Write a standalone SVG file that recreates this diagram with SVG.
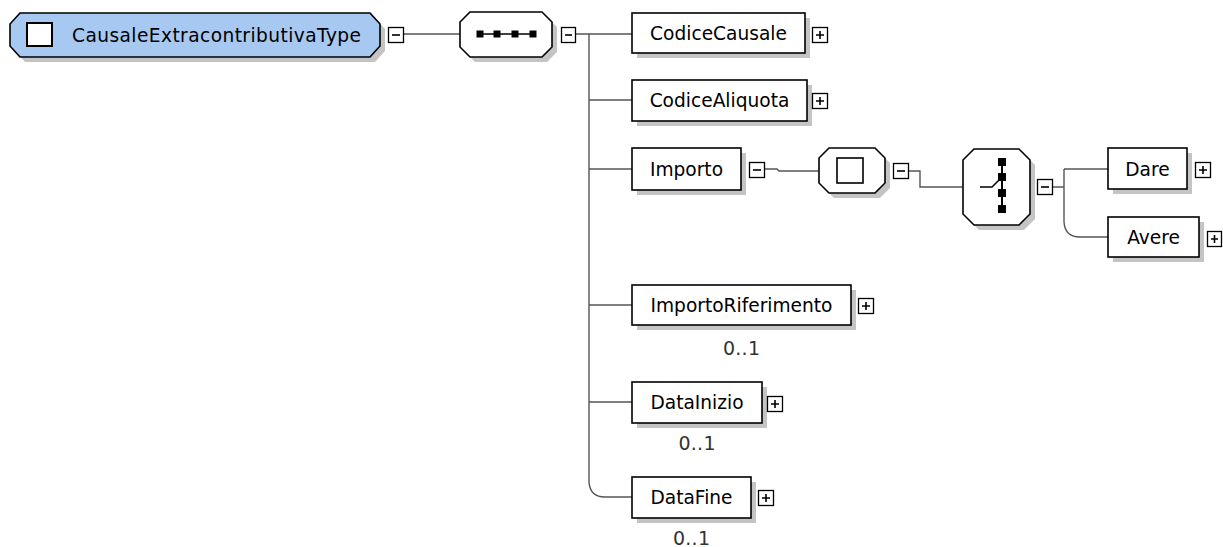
<svg xmlns="http://www.w3.org/2000/svg" width="1223" height="547" viewBox="0 0 1223 547">
<style>
.sh{fill:#c4c4c4;stroke:none}
.box{fill:#ffffff;stroke:#000;stroke-width:1.6}
.root{fill:#a7c8f0;stroke:#000;stroke-width:1.6}
.lbl{font-family:"DejaVu Sans",Verdana,sans-serif;font-size:18.6px;fill:#000}
.card{font-family:"DejaVu Sans",Verdana,sans-serif;font-size:19px;fill:#333;text-anchor:middle}
.tg{fill:#fff;stroke:#000;stroke-width:1.3}
.tgl{stroke:#000;stroke-width:1.6;fill:none}
.con{fill:none;stroke:#555;stroke-width:1.4}
.dot{fill:#000}
</style>
<rect width="1223" height="547" fill="#fff"/>
<g id="connectors">
<path class="con" d="M404,34 H460"/>
<path class="con" d="M575,34 H589 M589,34 V482 Q590,497 605,497 H632"/>
<path class="con" d="M589,34 H632 M589,100 H632 M589,169 H632 M589,305 H632 M589,402 H632"/>
<path class="con" d="M764,169 H777 L779,171 H819"/>
<path class="con" d="M908,171 H920 V187 H963"/>
<path class="con" d="M1052,187 H1064 M1064,169 H1108 M1064,169 V222 Q1065,237 1080,237 H1108"/>
</g>
<g id="root">
<polygon class="sh" points="25,18 375,18 385,29 385,51 375,62 25,62 15,51 15,29"/>
<polygon class="root" points="20,13 370,13 380,24 380,46 370,57 20,57 10,46 10,24"/>
<rect x="27" y="23" width="25" height="23" fill="#fff" stroke="#000" stroke-width="2"/>
<text class="lbl" x="72" y="42" textLength="289" lengthAdjust="spacing">CausaleExtracontributivaType</text>
<rect class="tg" x="388.5" y="27.5" width="15" height="15"/>
<path class="tgl" d="M392,35 H400"/>
</g>
<g id="sequence">
<polygon class="sh" points="475,17 547,17 557,27 557,52 547,62 475,62 465,52 465,27"/>
<polygon class="box" points="470,12 542,12 552,22 552,47 542,57 470,57 460,47 460,22"/>
<path d="M480,34 H533" stroke="#000" stroke-width="1.5"/>
<rect class="dot" x="476.5" y="30.5" width="7" height="7"/>
<rect class="dot" x="493.5" y="30.5" width="7" height="7"/>
<rect class="dot" x="511.5" y="30.5" width="7" height="7"/>
<rect class="dot" x="529.5" y="30.5" width="7" height="7"/>
<rect class="tg" x="561.5" y="27.5" width="14" height="15"/>
<path class="tgl" d="M565,35 H572"/>
</g>
<g id="CodiceCausale">
<rect class="sh" x="637" y="18" width="173" height="40"/>
<rect class="box" x="632" y="13" width="173" height="40"/>
<text class="lbl" x="718.5" y="40" text-anchor="middle">CodiceCausale</text>
<rect class="tg" x="812.5" y="27.5" width="15" height="15"/>
<path class="tgl" d="M816,35 H824 M820,31 V39"/>
</g>
<g id="CodiceAliquota">
<rect class="sh" x="637" y="85" width="175" height="41"/>
<rect class="box" x="632" y="80" width="175" height="41"/>
<text class="lbl" x="719.5" y="107" text-anchor="middle">CodiceAliquota</text>
<rect class="tg" x="812.5" y="93.5" width="15" height="15"/>
<path class="tgl" d="M816,101 H824 M820,97 V105"/>
</g>
<g id="Importo">
<rect class="sh" x="637" y="153" width="109" height="42"/>
<rect class="box" x="632" y="148" width="109" height="42"/>
<text class="lbl" x="686.5" y="176" text-anchor="middle">Importo</text>
<rect class="tg" x="749.5" y="162.5" width="15" height="15"/>
<path class="tgl" d="M753,170 H761"/>
</g>
<g id="complexType">
<polygon class="sh" points="834,153 880,153 890,163 890,188 880,198 834,198 824,188 824,163"/>
<polygon class="box" points="829,148 875,148 885,158 885,183 875,193 829,193 819,183 819,158"/>
<rect x="837" y="158" width="26" height="25" fill="#fff" stroke="#000" stroke-width="1.6"/>
<rect class="tg" x="893.5" y="163.5" width="15" height="15"/>
<path class="tgl" d="M897,171 H905"/>
</g>
<g id="choice">
<polygon class="sh" points="979,154 1024,154 1035,165 1035,219 1024,230 979,230 968,219 968,165"/>
<polygon class="box" points="974,149 1019,149 1030,160 1030,214 1019,225 974,225 963,214 963,160"/>
<path d="M1002,162 V209" stroke="#000" stroke-width="2"/>
<rect class="dot" x="998" y="158" width="8" height="8"/>
<rect class="dot" x="998" y="173" width="8" height="8"/>
<rect class="dot" x="998" y="189" width="8" height="8"/>
<rect class="dot" x="998" y="205" width="8" height="8"/>
<path d="M980,187 H992 L1000,179" stroke="#000" stroke-width="1.5" fill="none"/>
<rect class="tg" x="1037.5" y="179.5" width="15" height="15"/>
<path class="tgl" d="M1041,187 H1049"/>
</g>
<g id="Dare">
<rect class="sh" x="1113" y="153" width="79" height="41"/>
<rect class="box" x="1108" y="148" width="79" height="41"/>
<text class="lbl" x="1147.5" y="176" text-anchor="middle">Dare</text>
<rect class="tg" x="1195.5" y="162.5" width="15" height="15"/>
<path class="tgl" d="M1199,170 H1207 M1203,166 V174"/>
</g>
<g id="Avere">
<rect class="sh" x="1113" y="222" width="91" height="40"/>
<rect class="box" x="1108" y="217" width="91" height="40"/>
<text class="lbl" x="1153.5" y="244" text-anchor="middle">Avere</text>
<rect class="tg" x="1207.5" y="231.5" width="14" height="15"/>
<path class="tgl" d="M1211,239 H1218 M1214.5,235 V243"/>
</g>
<g id="ImportoRiferimento">
<rect class="sh" x="637" y="290" width="219" height="40"/>
<rect class="box" x="632" y="285" width="219" height="40"/>
<text class="lbl" x="741.5" y="312" text-anchor="middle">ImportoRiferimento</text>
<rect class="tg" x="858.5" y="298.5" width="15" height="15"/>
<path class="tgl" d="M862,306 H870 M866,302 V310"/>
<text class="card" x="741.5" y="355" textLength="37" lengthAdjust="spacing">0..1</text>
</g>
<g id="DataInizio">
<rect class="sh" x="637" y="387" width="130" height="41"/>
<rect class="box" x="632" y="382" width="130" height="41"/>
<text class="lbl" x="697" y="409" text-anchor="middle">DataInizio</text>
<rect class="tg" x="767.5" y="396.5" width="15" height="15"/>
<path class="tgl" d="M771,404 H779 M775,400 V408"/>
<text class="card" x="697" y="450" textLength="37" lengthAdjust="spacing">0..1</text>
</g>
<g id="DataFine">
<rect class="sh" x="637" y="482" width="119" height="41"/>
<rect class="box" x="632" y="477" width="119" height="41"/>
<text class="lbl" x="691.5" y="504" text-anchor="middle">DataFine</text>
<rect class="tg" x="758.5" y="490.5" width="15" height="15"/>
<path class="tgl" d="M762,498 H770 M766,494 V502"/>
<text class="card" x="691.5" y="545" textLength="37" lengthAdjust="spacing">0..1</text>
</g>
</svg>
